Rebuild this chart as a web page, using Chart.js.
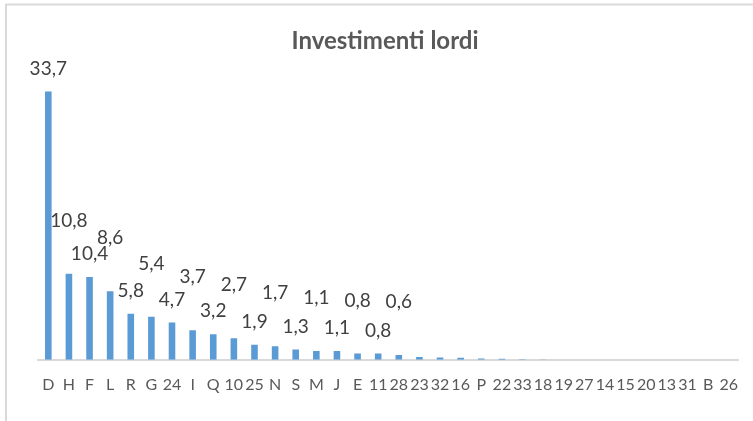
<!DOCTYPE html>
<html>
<head>
<meta charset="utf-8">
<script src="https://cdn.jsdelivr.net/npm/chart.js@4/dist/chart.umd.min.js"></script>
<style>
  html, body { margin: 0; padding: 0; background: #ffffff; }
  #wrap { width: 753px; height: 421px; position: relative; }
</style>
</head>
<body>
<div id="wrap"><canvas id="chart" width="753" height="421"></canvas></div>
<script>
// Categories and gross investment values (same order as drawn)
const categories = ['D','H','F','L','R','G','24','I','Q','10','25','N','S','M','J','E','11','28',
                    '23','32','16','P','22','33','18','19','27','14','15','20','13','31','B','26'];
const investimenti = [33.7, 10.8, 10.4, 8.6, 5.8, 5.4, 4.7, 3.7, 3.2, 2.7, 1.9, 1.7, 1.3, 1.1, 1.1, 0.8, 0.8, 0.6,
                      0.35, 0.3, 0.25, 0.15, 0.12, 0.06, 0.03, 0.01, 0, 0, 0, 0, 0, 0, 0, 0];
const chartTitle = 'Investimenti lordi';
const labelMin = 0.5;   // smaller values carry no value label

const FONT = 'Lato';
const fmt = v => v.toFixed(1).replace('.', ',');

// White background plus the thin grey frame along the top and left edges
const framePlugin = {
  id: 'frame',
  beforeDraw(chart) {
    const ctx = chart.ctx;
    ctx.save();
    ctx.fillStyle = '#ffffff';
    ctx.fillRect(0, 0, chart.width, chart.height);
    ctx.strokeStyle = '#d9d9d9';
    ctx.lineWidth = 2;
    ctx.beginPath();
    ctx.moveTo(6, chart.height);
    ctx.lineTo(6, 4.5);
    ctx.lineTo(chart.width, 4.5);
    ctx.stroke();
    ctx.restore();
  }
};

// Value labels above the bars, staggered on alternate bars so they do not collide
const valueLabels = {
  id: 'valueLabels',
  afterDatasetsDraw(chart) {
    const ctx = chart.ctx;
    const meta = chart.getDatasetMeta(0);
    const data = chart.data.datasets[0].data;
    ctx.save();
    ctx.font = '19px ' + FONT;
    ctx.fillStyle = '#404040';
    ctx.textAlign = 'center';
    ctx.textBaseline = 'middle';
    meta.data.forEach((bar, i) => {
      const v = data[i];
      if (v < labelMin) return;
      const lift = (i % 2 === 0) ? 23 : 53;
      ctx.fillText(fmt(v), bar.x, bar.y - lift);
    });
    ctx.restore();
  }
};

new Chart(document.getElementById('chart'), {
  type: 'bar',
  data: {
    labels: categories,
    datasets: [{
      data: investimenti,
      backgroundColor: '#5b9bd5',
      borderWidth: 0,
      categoryPercentage: 1,
      barPercentage: 0.32
    }]
  },
  options: {
    responsive: false,
    animation: false,
    devicePixelRatio: 1,
    layout: { padding: { left: 20, right: 3, top: 0, bottom: 12 } },
    plugins: {
      legend: { display: false },
      tooltip: { enabled: false },
      title: {
        display: true,
        text: chartTitle,
        color: '#595959',
        font: { family: FONT, size: 24, weight: 'bold' },
        padding: { top: 27, bottom: 17.5 }
      }
    },
    scales: {
      x: {
        grid: { display: false, drawTicks: false },
        border: { display: true, color: '#d9d9d9', width: 2 },
        ticks: {
          autoSkip: false,
          maxRotation: 0,
          minRotation: 0,
          padding: 15,
          color: '#595959',
          font: { family: FONT, size: 16 }
        }
      },
      y: {
        min: 0,
        max: 36,
        grid: { display: false, drawTicks: false },
        border: { display: false },
        ticks: { display: false },
        afterFit(scale) { scale.width = 18; }
      }
    }
  },
  plugins: [framePlugin, valueLabels]
});
</script>
</body>
</html>
